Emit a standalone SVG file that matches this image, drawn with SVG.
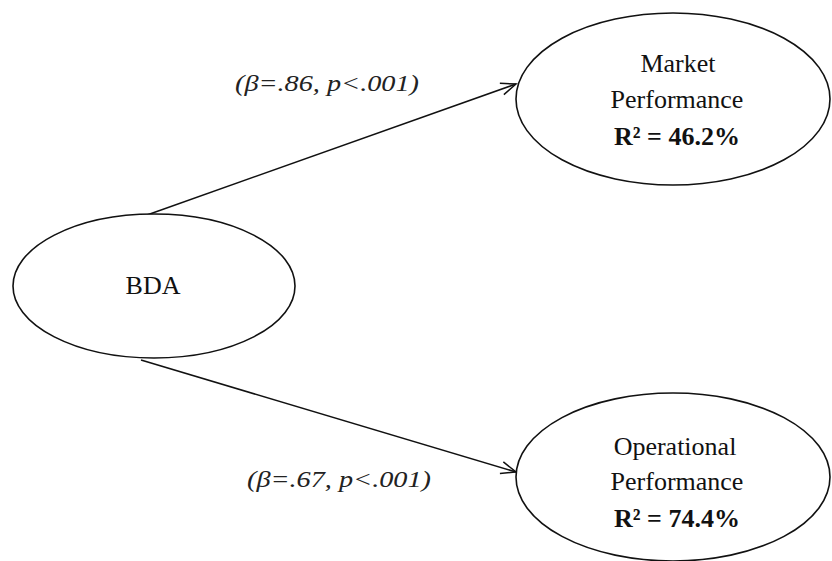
<svg xmlns="http://www.w3.org/2000/svg" width="832" height="561" viewBox="0 0 832 561">
<style>
.node{fill:#fff;stroke:#111;stroke-width:1.6}
.t{font-family:"Liberation Serif","Times New Roman",serif;font-size:26px;fill:#111;text-anchor:middle}
.b{font-weight:bold}
.lbl{font-family:"Liberation Serif","Times New Roman",serif;font-size:23px;font-style:italic;fill:#222}
.edge{stroke:#111;stroke-width:1.5;fill:none}
</style>
<defs>
<marker id="arr" markerUnits="userSpaceOnUse" markerWidth="30" markerHeight="30" refX="0" refY="0" viewBox="-20 -15 30 30" orient="auto" overflow="visible">
<path d="M-15,-6 L0,0 L-15,6" fill="none" stroke="#111" stroke-width="1.5"/>
</marker>
</defs>
<rect width="832" height="561" fill="#fff"/>
<g id="connectors">
<line class="edge" x1="147" y1="215" x2="516" y2="84" marker-end="url(#arr)"/>
<line class="edge" x1="141" y1="360" x2="516" y2="472" marker-end="url(#arr)"/>
<text class="lbl" x="235" y="91" textLength="184" lengthAdjust="spacingAndGlyphs">(β=.86, p&lt;.001)</text>
<text class="lbl" x="247" y="487" textLength="184" lengthAdjust="spacingAndGlyphs">(β=.67, p&lt;.001)</text>
</g>
<g id="bda">
<ellipse class="node" cx="154" cy="286" rx="141" ry="72"/>
<text class="t" x="153" y="294">BDA</text>
</g>
<g id="market">
<ellipse class="node" cx="673" cy="99" rx="157" ry="86"/>
<text class="t" x="678" y="72">Market</text>
<text class="t" x="677" y="108">Performance</text>
<text class="t b" x="677" y="145">R² = 46.2%</text>
</g>
<g id="operational">
<ellipse class="node" cx="673" cy="477" rx="157" ry="84"/>
<text class="t" x="675" y="455">Operational</text>
<text class="t" x="677" y="490">Performance</text>
<text class="t b" x="677" y="527">R² = 74.4%</text>
</g>
</svg>
